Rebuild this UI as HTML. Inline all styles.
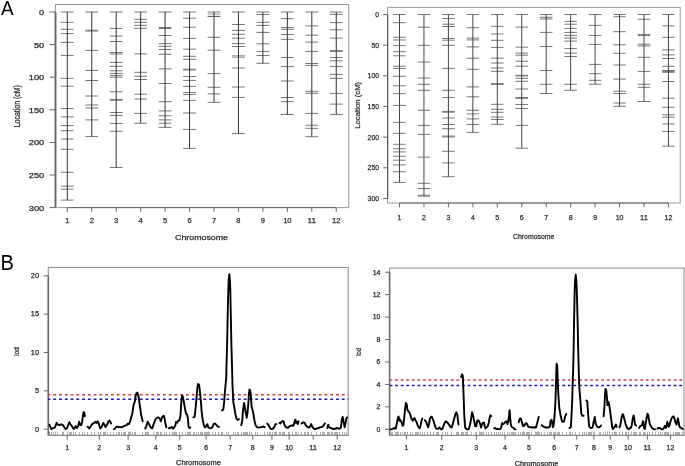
<!DOCTYPE html>
<html><head><meta charset="utf-8"><style>
html,body{margin:0;padding:0;background:#fff;}
body{width:685px;height:466px;overflow:hidden;}
svg{display:block;}
</style></head><body>
<svg width="685" height="466" viewBox="0 0 685 466">
<defs><filter id="bl" x="0" y="0" width="100%" height="100%" filterUnits="userSpaceOnUse"><feGaussianBlur stdDeviation="0.4"/></filter></defs>
<rect width="685" height="466" fill="#fff"/>
<g filter="url(#bl)">
<rect width="685" height="466" fill="#fff"/>
<g font-family='"Liberation Sans", sans-serif'>
<rect x="55.5" y="4.5" width="293.2" height="203.1" fill="none" stroke="#9a9a9a" stroke-width="1"/>
<line x1="55.5" y1="12.0" x2="55.5" y2="207.6" stroke="#666" stroke-width="1.9"/>
<line x1="49.5" y1="12.00" x2="55.5" y2="12.00" stroke="#666" stroke-width="1"/>
<text x="44.20" y="15.00" text-anchor="end" font-size="7.2" fill="#2a2a2a" stroke="#2a2a2a" stroke-width="0.25" textLength="5.15" lengthAdjust="spacingAndGlyphs">0</text>
<line x1="49.5" y1="44.60" x2="55.5" y2="44.60" stroke="#666" stroke-width="1"/>
<text x="44.20" y="47.60" text-anchor="end" font-size="7.2" fill="#2a2a2a" stroke="#2a2a2a" stroke-width="0.25" textLength="10.3" lengthAdjust="spacingAndGlyphs">50</text>
<line x1="49.5" y1="77.20" x2="55.5" y2="77.20" stroke="#666" stroke-width="1"/>
<text x="44.20" y="80.20" text-anchor="end" font-size="7.2" fill="#2a2a2a" stroke="#2a2a2a" stroke-width="0.25" textLength="15.450000000000001" lengthAdjust="spacingAndGlyphs">100</text>
<line x1="49.5" y1="109.80" x2="55.5" y2="109.80" stroke="#666" stroke-width="1"/>
<text x="44.20" y="112.80" text-anchor="end" font-size="7.2" fill="#2a2a2a" stroke="#2a2a2a" stroke-width="0.25" textLength="15.450000000000001" lengthAdjust="spacingAndGlyphs">150</text>
<line x1="49.5" y1="142.40" x2="55.5" y2="142.40" stroke="#666" stroke-width="1"/>
<text x="44.20" y="145.40" text-anchor="end" font-size="7.2" fill="#2a2a2a" stroke="#2a2a2a" stroke-width="0.25" textLength="15.450000000000001" lengthAdjust="spacingAndGlyphs">200</text>
<line x1="49.5" y1="175.00" x2="55.5" y2="175.00" stroke="#666" stroke-width="1"/>
<text x="44.20" y="178.00" text-anchor="end" font-size="7.2" fill="#2a2a2a" stroke="#2a2a2a" stroke-width="0.25" textLength="15.450000000000001" lengthAdjust="spacingAndGlyphs">250</text>
<line x1="49.5" y1="207.60" x2="55.5" y2="207.60" stroke="#666" stroke-width="1"/>
<text x="44.20" y="210.60" text-anchor="end" font-size="7.2" fill="#2a2a2a" stroke="#2a2a2a" stroke-width="0.25" textLength="15.450000000000001" lengthAdjust="spacingAndGlyphs">300</text>
<line x1="67.30" y1="207.6" x2="336.25" y2="207.6" stroke="#666" stroke-width="1"/>
<line x1="67.30" y1="207.6" x2="67.30" y2="211.9" stroke="#666" stroke-width="1"/>
<text x="67.30" y="223.10" text-anchor="middle" font-size="7.6" fill="#2a2a2a" stroke="#2a2a2a" stroke-width="0.25" textLength="4.2" lengthAdjust="spacingAndGlyphs">1</text>
<line x1="91.75" y1="207.6" x2="91.75" y2="211.9" stroke="#666" stroke-width="1"/>
<text x="91.75" y="223.10" text-anchor="middle" font-size="7.6" fill="#2a2a2a" stroke="#2a2a2a" stroke-width="0.25" textLength="4.2" lengthAdjust="spacingAndGlyphs">2</text>
<line x1="116.20" y1="207.6" x2="116.20" y2="211.9" stroke="#666" stroke-width="1"/>
<text x="116.20" y="223.10" text-anchor="middle" font-size="7.6" fill="#2a2a2a" stroke="#2a2a2a" stroke-width="0.25" textLength="4.2" lengthAdjust="spacingAndGlyphs">3</text>
<line x1="140.65" y1="207.6" x2="140.65" y2="211.9" stroke="#666" stroke-width="1"/>
<text x="140.65" y="223.10" text-anchor="middle" font-size="7.6" fill="#2a2a2a" stroke="#2a2a2a" stroke-width="0.25" textLength="4.2" lengthAdjust="spacingAndGlyphs">4</text>
<line x1="165.10" y1="207.6" x2="165.10" y2="211.9" stroke="#666" stroke-width="1"/>
<text x="165.10" y="223.10" text-anchor="middle" font-size="7.6" fill="#2a2a2a" stroke="#2a2a2a" stroke-width="0.25" textLength="4.2" lengthAdjust="spacingAndGlyphs">5</text>
<line x1="189.55" y1="207.6" x2="189.55" y2="211.9" stroke="#666" stroke-width="1"/>
<text x="189.55" y="223.10" text-anchor="middle" font-size="7.6" fill="#2a2a2a" stroke="#2a2a2a" stroke-width="0.25" textLength="4.2" lengthAdjust="spacingAndGlyphs">6</text>
<line x1="214.00" y1="207.6" x2="214.00" y2="211.9" stroke="#666" stroke-width="1"/>
<text x="214.00" y="223.10" text-anchor="middle" font-size="7.6" fill="#2a2a2a" stroke="#2a2a2a" stroke-width="0.25" textLength="4.2" lengthAdjust="spacingAndGlyphs">7</text>
<line x1="238.45" y1="207.6" x2="238.45" y2="211.9" stroke="#666" stroke-width="1"/>
<text x="238.45" y="223.10" text-anchor="middle" font-size="7.6" fill="#2a2a2a" stroke="#2a2a2a" stroke-width="0.25" textLength="4.2" lengthAdjust="spacingAndGlyphs">8</text>
<line x1="262.90" y1="207.6" x2="262.90" y2="211.9" stroke="#666" stroke-width="1"/>
<text x="262.90" y="223.10" text-anchor="middle" font-size="7.6" fill="#2a2a2a" stroke="#2a2a2a" stroke-width="0.25" textLength="4.2" lengthAdjust="spacingAndGlyphs">9</text>
<line x1="287.35" y1="207.6" x2="287.35" y2="211.9" stroke="#666" stroke-width="1"/>
<text x="287.35" y="223.10" text-anchor="middle" font-size="7.6" fill="#2a2a2a" stroke="#2a2a2a" stroke-width="0.25" textLength="8.4" lengthAdjust="spacingAndGlyphs">10</text>
<line x1="311.80" y1="207.6" x2="311.80" y2="211.9" stroke="#666" stroke-width="1"/>
<text x="311.80" y="223.10" text-anchor="middle" font-size="7.6" fill="#2a2a2a" stroke="#2a2a2a" stroke-width="0.25" textLength="8.4" lengthAdjust="spacingAndGlyphs">11</text>
<line x1="336.25" y1="207.6" x2="336.25" y2="211.9" stroke="#666" stroke-width="1"/>
<text x="336.25" y="223.10" text-anchor="middle" font-size="7.6" fill="#2a2a2a" stroke="#2a2a2a" stroke-width="0.25" textLength="8.4" lengthAdjust="spacingAndGlyphs">12</text>
<text x="201.50" y="240.30" text-anchor="middle" font-size="7.8" fill="#2a2a2a" stroke="#2a2a2a" stroke-width="0.25" textLength="53.0" lengthAdjust="spacingAndGlyphs">Chromosome</text>
<text transform="translate(19.9,106.2) rotate(-90)" text-anchor="middle" font-size="8.7" fill="#2a2a2a" stroke="#2a2a2a" stroke-width="0.25" textLength="42.2" lengthAdjust="spacingAndGlyphs">Location (cM)</text>
<path d="M60.90 12.0h12.80M60.90 22.3h12.80M60.90 29.3h12.80M60.90 33.6h12.80M60.90 42.4h12.80M60.90 55.4h12.80M60.90 78.3h12.80M60.90 86.2h12.80M60.90 108.6h12.80M60.90 116.9h12.80M60.90 125.6h12.80M60.90 130.7h12.80M60.90 139h12.80M60.90 149.3h12.80M60.90 172.3h12.80M60.90 186.1h12.80M60.90 189.1h12.80M60.90 200.1h12.80" stroke="#777" stroke-width="1" fill="none"/>
<line x1="67.30" y1="12.0" x2="67.30" y2="200.1" stroke="#333" stroke-width="1"/>
<path d="M85.35 12.0h12.80M85.35 30.2h12.80M85.35 31.0h12.80M85.35 50.4h12.80M85.35 70.4h12.80M85.35 80.5h12.80M85.35 96h12.80M85.35 105h12.80M85.35 108h12.80M85.35 119.9h12.80M85.35 136.6h12.80" stroke="#777" stroke-width="1" fill="none"/>
<line x1="91.75" y1="12.0" x2="91.75" y2="136.6" stroke="#333" stroke-width="1"/>
<path d="M109.80 12.0h12.80M109.80 28.4h12.80M109.80 36.1h12.80M109.80 41.5h12.80M109.80 52.5h12.80M109.80 54h12.80M109.80 62.4h12.80M109.80 66.3h12.80M109.80 70.8h12.80M109.80 73.4h12.80M109.80 75.4h12.80M109.80 77.2h12.80M109.80 91.8h12.80M109.80 99.4h12.80M109.80 100.2h12.80M109.80 112.5h12.80M109.80 115.4h12.80M109.80 123.4h12.80M109.80 131.3h12.80M109.80 167.5h12.80" stroke="#777" stroke-width="1" fill="none"/>
<line x1="116.20" y1="12.0" x2="116.20" y2="167.5" stroke="#333" stroke-width="1"/>
<path d="M134.25 12.0h12.80M134.25 19.3h12.80M134.25 22.3h12.80M134.25 25.3h12.80M134.25 28.3h12.80M134.25 53.9h12.80M134.25 72.3h12.80M134.25 76.3h12.80M134.25 79.5h12.80M134.25 94.2h12.80M134.25 99h12.80M134.25 113.4h12.80M134.25 123.2h12.80" stroke="#777" stroke-width="1" fill="none"/>
<line x1="140.65" y1="12.0" x2="140.65" y2="123.2" stroke="#333" stroke-width="1"/>
<path d="M158.70 12.0h12.80M158.70 27.5h12.80M158.70 28.5h12.80M158.70 35.5h12.80M158.70 43.6h12.80M158.70 46.3h12.80M158.70 49.5h12.80M158.70 54.3h12.80M158.70 68.9h12.80M158.70 83.5h12.80M158.70 101.7h12.80M158.70 110.9h12.80M158.70 115.8h12.80M158.70 119.9h12.80M158.70 123.2h12.80M158.70 127.4h12.80" stroke="#777" stroke-width="1" fill="none"/>
<line x1="165.10" y1="12.0" x2="165.10" y2="127.4" stroke="#333" stroke-width="1"/>
<path d="M183.15 12.0h12.80M183.15 18.2h12.80M183.15 27.2h12.80M183.15 38.4h12.80M183.15 49.2h12.80M183.15 56.3h12.80M183.15 59.3h12.80M183.15 69.2h12.80M183.15 70.0h12.80M183.15 76.5h12.80M183.15 80.4h12.80M183.15 86.4h12.80M183.15 92.5h12.80M183.15 94.5h12.80M183.15 100.4h12.80M183.15 113h12.80M183.15 129.4h12.80M183.15 148.4h12.80" stroke="#777" stroke-width="1" fill="none"/>
<line x1="189.55" y1="12.0" x2="189.55" y2="148.4" stroke="#333" stroke-width="1"/>
<path d="M207.60 37.3h12.80M207.60 50.2h12.80M207.60 73.6h12.80M207.60 87.3h12.80M207.60 93.9h12.80M207.60 102.3h12.80" stroke="#777" stroke-width="1" fill="none"/>
<path d="M207.60 11.7h12.80" stroke="#aaa" stroke-width="1" fill="none"/>
<path d="M207.60 12.9h12.80" stroke="#aaa" stroke-width="1" fill="none"/>
<path d="M207.60 14.1h12.80" stroke="#aaa" stroke-width="1" fill="none"/>
<path d="M207.60 16.4h12.80" stroke="#555" stroke-width="1" fill="none"/>
<line x1="214.00" y1="11.7" x2="214.00" y2="102.3" stroke="#333" stroke-width="1"/>
<path d="M232.05 12.0h12.80M232.05 24.5h12.80M232.05 30.4h12.80M232.05 34.3h12.80M232.05 38.2h12.80M232.05 43.6h12.80M232.05 46.5h12.80M232.05 68h12.80M232.05 87h12.80M232.05 97.4h12.80M232.05 133.6h12.80" stroke="#777" stroke-width="1" fill="none"/>
<path d="M232.05 55.8h12.80" stroke="#888" stroke-width="1" fill="none"/>
<path d="M232.05 57.2h12.80" stroke="#888" stroke-width="1" fill="none"/>
<line x1="238.45" y1="12.0" x2="238.45" y2="133.6" stroke="#333" stroke-width="1"/>
<path d="M256.50 12.0h12.80M256.50 14.5h12.80M256.50 22.3h12.80M256.50 25.4h12.80M256.50 32.4h12.80M256.50 43.8h12.80M256.50 51.4h12.80M256.50 55.5h12.80M256.50 63.3h12.80" stroke="#777" stroke-width="1" fill="none"/>
<line x1="262.90" y1="12.0" x2="262.90" y2="63.3" stroke="#333" stroke-width="1"/>
<path d="M280.95 12.0h12.80M280.95 18.7h12.80M280.95 27.5h12.80M280.95 29.3h12.80M280.95 34.5h12.80M280.95 39.3h12.80M280.95 57.5h12.80M280.95 66.6h12.80M280.95 81h12.80M280.95 97.5h12.80M280.95 101.7h12.80M280.95 114.5h12.80" stroke="#777" stroke-width="1" fill="none"/>
<line x1="287.35" y1="12.0" x2="287.35" y2="114.5" stroke="#333" stroke-width="1"/>
<path d="M305.40 12.0h12.80M305.40 25.9h12.80M305.40 35.2h12.80M305.40 42.1h12.80M305.40 51.4h12.80M305.40 63.5h12.80M305.40 65.4h12.80M305.40 91.3h12.80M305.40 93.3h12.80M305.40 113.4h12.80M305.40 125.2h12.80M305.40 128.3h12.80M305.40 136.7h12.80" stroke="#777" stroke-width="1" fill="none"/>
<line x1="311.80" y1="12.0" x2="311.80" y2="136.7" stroke="#333" stroke-width="1"/>
<path d="M329.85 12.0h12.80M329.85 14.3h12.80M329.85 22.6h12.80M329.85 29.8h12.80M329.85 38.1h12.80M329.85 50.6h12.80M329.85 51.4h12.80M329.85 57.5h12.80M329.85 60.8h12.80M329.85 66.5h12.80M329.85 74.4h12.80M329.85 78.3h12.80M329.85 93.4h12.80M329.85 104.1h12.80M329.85 114.5h12.80" stroke="#777" stroke-width="1" fill="none"/>
<line x1="336.25" y1="12.0" x2="336.25" y2="114.5" stroke="#333" stroke-width="1"/>
<rect x="387.6" y="7.4" width="292.6" height="195.6" fill="none" stroke="#9a9a9a" stroke-width="1"/>
<line x1="387.6" y1="14.5" x2="387.6" y2="198.48999999999998" stroke="#555" stroke-width="1.2"/>
<line x1="383.3" y1="14.50" x2="387.6" y2="14.50" stroke="#666" stroke-width="1"/>
<text x="379.00" y="17.10" text-anchor="end" font-size="7.5" fill="#2a2a2a" stroke="#2a2a2a" stroke-width="0.25" textLength="3.8" lengthAdjust="spacingAndGlyphs">0</text>
<line x1="383.3" y1="45.16" x2="387.6" y2="45.16" stroke="#666" stroke-width="1"/>
<text x="379.00" y="47.77" text-anchor="end" font-size="7.5" fill="#2a2a2a" stroke="#2a2a2a" stroke-width="0.25" textLength="7.6" lengthAdjust="spacingAndGlyphs">50</text>
<line x1="383.3" y1="75.83" x2="387.6" y2="75.83" stroke="#666" stroke-width="1"/>
<text x="379.00" y="78.43" text-anchor="end" font-size="7.5" fill="#2a2a2a" stroke="#2a2a2a" stroke-width="0.25" textLength="11.399999999999999" lengthAdjust="spacingAndGlyphs">100</text>
<line x1="383.3" y1="106.49" x2="387.6" y2="106.49" stroke="#666" stroke-width="1"/>
<text x="379.00" y="109.09" text-anchor="end" font-size="7.5" fill="#2a2a2a" stroke="#2a2a2a" stroke-width="0.25" textLength="11.399999999999999" lengthAdjust="spacingAndGlyphs">150</text>
<line x1="383.3" y1="137.16" x2="387.6" y2="137.16" stroke="#666" stroke-width="1"/>
<text x="379.00" y="139.76" text-anchor="end" font-size="7.5" fill="#2a2a2a" stroke="#2a2a2a" stroke-width="0.25" textLength="11.399999999999999" lengthAdjust="spacingAndGlyphs">200</text>
<line x1="383.3" y1="167.82" x2="387.6" y2="167.82" stroke="#666" stroke-width="1"/>
<text x="379.00" y="170.42" text-anchor="end" font-size="7.5" fill="#2a2a2a" stroke="#2a2a2a" stroke-width="0.25" textLength="11.399999999999999" lengthAdjust="spacingAndGlyphs">250</text>
<line x1="383.3" y1="198.49" x2="387.6" y2="198.49" stroke="#666" stroke-width="1"/>
<text x="379.00" y="201.09" text-anchor="end" font-size="7.5" fill="#2a2a2a" stroke="#2a2a2a" stroke-width="0.25" textLength="11.399999999999999" lengthAdjust="spacingAndGlyphs">300</text>
<line x1="399.50" y1="203.0" x2="668.45" y2="203.0" stroke="#666" stroke-width="1"/>
<line x1="399.50" y1="203.0" x2="399.50" y2="207.3" stroke="#666" stroke-width="1"/>
<text x="399.50" y="220.10" text-anchor="middle" font-size="7.6" fill="#2a2a2a" stroke="#2a2a2a" stroke-width="0.25" textLength="3.9" lengthAdjust="spacingAndGlyphs">1</text>
<line x1="423.95" y1="203.0" x2="423.95" y2="207.3" stroke="#666" stroke-width="1"/>
<text x="423.95" y="220.10" text-anchor="middle" font-size="7.6" fill="#2a2a2a" stroke="#2a2a2a" stroke-width="0.25" textLength="3.9" lengthAdjust="spacingAndGlyphs">2</text>
<line x1="448.40" y1="203.0" x2="448.40" y2="207.3" stroke="#666" stroke-width="1"/>
<text x="448.40" y="220.10" text-anchor="middle" font-size="7.6" fill="#2a2a2a" stroke="#2a2a2a" stroke-width="0.25" textLength="3.9" lengthAdjust="spacingAndGlyphs">3</text>
<line x1="472.85" y1="203.0" x2="472.85" y2="207.3" stroke="#666" stroke-width="1"/>
<text x="472.85" y="220.10" text-anchor="middle" font-size="7.6" fill="#2a2a2a" stroke="#2a2a2a" stroke-width="0.25" textLength="3.9" lengthAdjust="spacingAndGlyphs">4</text>
<line x1="497.30" y1="203.0" x2="497.30" y2="207.3" stroke="#666" stroke-width="1"/>
<text x="497.30" y="220.10" text-anchor="middle" font-size="7.6" fill="#2a2a2a" stroke="#2a2a2a" stroke-width="0.25" textLength="3.9" lengthAdjust="spacingAndGlyphs">5</text>
<line x1="521.75" y1="203.0" x2="521.75" y2="207.3" stroke="#666" stroke-width="1"/>
<text x="521.75" y="220.10" text-anchor="middle" font-size="7.6" fill="#2a2a2a" stroke="#2a2a2a" stroke-width="0.25" textLength="3.9" lengthAdjust="spacingAndGlyphs">6</text>
<line x1="546.20" y1="203.0" x2="546.20" y2="207.3" stroke="#666" stroke-width="1"/>
<text x="546.20" y="220.10" text-anchor="middle" font-size="7.6" fill="#2a2a2a" stroke="#2a2a2a" stroke-width="0.25" textLength="3.9" lengthAdjust="spacingAndGlyphs">7</text>
<line x1="570.65" y1="203.0" x2="570.65" y2="207.3" stroke="#666" stroke-width="1"/>
<text x="570.65" y="220.10" text-anchor="middle" font-size="7.6" fill="#2a2a2a" stroke="#2a2a2a" stroke-width="0.25" textLength="3.9" lengthAdjust="spacingAndGlyphs">8</text>
<line x1="595.10" y1="203.0" x2="595.10" y2="207.3" stroke="#666" stroke-width="1"/>
<text x="595.10" y="220.10" text-anchor="middle" font-size="7.6" fill="#2a2a2a" stroke="#2a2a2a" stroke-width="0.25" textLength="3.9" lengthAdjust="spacingAndGlyphs">9</text>
<line x1="619.55" y1="203.0" x2="619.55" y2="207.3" stroke="#666" stroke-width="1"/>
<text x="619.55" y="220.10" text-anchor="middle" font-size="7.6" fill="#2a2a2a" stroke="#2a2a2a" stroke-width="0.25" textLength="7.8" lengthAdjust="spacingAndGlyphs">10</text>
<line x1="644.00" y1="203.0" x2="644.00" y2="207.3" stroke="#666" stroke-width="1"/>
<text x="644.00" y="220.10" text-anchor="middle" font-size="7.6" fill="#2a2a2a" stroke="#2a2a2a" stroke-width="0.25" textLength="7.8" lengthAdjust="spacingAndGlyphs">11</text>
<line x1="668.45" y1="203.0" x2="668.45" y2="207.3" stroke="#666" stroke-width="1"/>
<text x="668.45" y="220.10" text-anchor="middle" font-size="7.6" fill="#2a2a2a" stroke="#2a2a2a" stroke-width="0.25" textLength="7.8" lengthAdjust="spacingAndGlyphs">12</text>
<text x="533.70" y="238.90" text-anchor="middle" font-size="8.0" fill="#2a2a2a" stroke="#2a2a2a" stroke-width="0.25" textLength="41.5" lengthAdjust="spacingAndGlyphs">Chromosome</text>
<text transform="translate(360.2,105.3) rotate(-90)" text-anchor="middle" font-size="8.0" fill="#2a2a2a" stroke="#2a2a2a" stroke-width="0.25" textLength="47.0" lengthAdjust="spacingAndGlyphs">Location (cM)</text>
<path d="M393.25 14.5h12.50M393.25 22.7h12.50M393.25 37.3h12.50M393.25 40h12.50M393.25 45.7h12.50M393.25 51.7h12.50M393.25 55.8h12.50M393.25 66.2h12.50M393.25 68.4h12.50M393.25 76.2h12.50M393.25 85.8h12.50M393.25 93.6h12.50M393.25 105.4h12.50M393.25 122.4h12.50M393.25 133.3h12.50M393.25 144.3h12.50M393.25 148.8h12.50M393.25 151.9h12.50M393.25 156.3h12.50M393.25 160.2h12.50M393.25 164.9h12.50M393.25 171.8h12.50M393.25 182.4h12.50" stroke="#777" stroke-width="1" fill="none"/>
<line x1="399.50" y1="14.5" x2="399.50" y2="182.4" stroke="#444" stroke-width="1"/>
<path d="M417.70 14.5h12.50M417.70 27.2h12.50M417.70 45.3h12.50M417.70 62h12.50M417.70 78h12.50M417.70 84.3h12.50M417.70 90.3h12.50M417.70 110.3h12.50M417.70 125.4h12.50M417.70 134.4h12.50M417.70 157.2h12.50M417.70 183.3h12.50M417.70 188.5h12.50M417.70 195.3h12.50M417.70 196.1h12.50" stroke="#777" stroke-width="1" fill="none"/>
<line x1="423.95" y1="14.5" x2="423.95" y2="196.1" stroke="#444" stroke-width="1"/>
<path d="M442.15 14.5h12.50M442.15 18.5h12.50M442.15 24.2h12.50M442.15 26.5h12.50M442.15 38.5h12.50M442.15 40.2h12.50M442.15 45.3h12.50M442.15 68.4h12.50M442.15 90.3h12.50M442.15 97.6h12.50M442.15 111.4h12.50M442.15 112.2h12.50M442.15 118h12.50M442.15 124.5h12.50M442.15 128.7h12.50M442.15 136.1h12.50M442.15 136.9h12.50M442.15 151.3h12.50M442.15 162.9h12.50M442.15 176.7h12.50" stroke="#777" stroke-width="1" fill="none"/>
<line x1="448.40" y1="14.5" x2="448.40" y2="176.7" stroke="#444" stroke-width="1"/>
<path d="M466.60 14.5h12.50M466.60 27.7h12.50M466.60 38.1h12.50M466.60 39.9h12.50M466.60 46.9h12.50M466.60 58.2h12.50M466.60 69.3h12.50M466.60 86.9h12.50M466.60 96.8h12.50M466.60 110.3h12.50M466.60 113.9h12.50M466.60 118.9h12.50M466.60 124.5h12.50M466.60 132.4h12.50" stroke="#777" stroke-width="1" fill="none"/>
<line x1="472.85" y1="14.5" x2="472.85" y2="132.4" stroke="#444" stroke-width="1"/>
<path d="M491.05 14.5h12.50M491.05 26.3h12.50M491.05 33.9h12.50M491.05 40.3h12.50M491.05 47.4h12.50M491.05 58.2h12.50M491.05 63h12.50M491.05 68h12.50M491.05 71.3h12.50M491.05 83.6h12.50M491.05 84.4h12.50M491.05 104.3h12.50M491.05 109.3h12.50M491.05 112.3h12.50M491.05 117.1h12.50M491.05 119.5h12.50M491.05 124.3h12.50" stroke="#777" stroke-width="1" fill="none"/>
<line x1="497.30" y1="14.5" x2="497.30" y2="124.3" stroke="#444" stroke-width="1"/>
<path d="M515.50 14.5h12.50M515.50 27.1h12.50M515.50 47.2h12.50M515.50 53.1h12.50M515.50 55.2h12.50M515.50 61.2h12.50M515.50 66.2h12.50M515.50 75.3h12.50M515.50 75.9h12.50M515.50 78.3h12.50M515.50 81.3h12.50M515.50 89h12.50M515.50 97.5h12.50M515.50 98.3h12.50M515.50 104.5h12.50M515.50 108.5h12.50M515.50 125.4h12.50M515.50 148.2h12.50" stroke="#777" stroke-width="1" fill="none"/>
<line x1="521.75" y1="14.5" x2="521.75" y2="148.2" stroke="#444" stroke-width="1"/>
<path d="M539.95 14.5h12.50M539.95 17.3h12.50M539.95 19h12.50M539.95 32.4h12.50M539.95 46.5h12.50M539.95 70.5h12.50M539.95 84.3h12.50M539.95 93.5h12.50" stroke="#777" stroke-width="1" fill="none"/>
<line x1="546.20" y1="14.5" x2="546.20" y2="93.5" stroke="#444" stroke-width="1"/>
<path d="M564.40 14.5h12.50M564.40 21.4h12.50M564.40 24.2h12.50M564.40 28.4h12.50M564.40 32.4h12.50M564.40 35.4h12.50M564.40 38.1h12.50M564.40 41.1h12.50M564.40 48.6h12.50M564.40 53.1h12.50M564.40 56.5h12.50M564.40 84.3h12.50M564.40 90.3h12.50" stroke="#777" stroke-width="1" fill="none"/>
<line x1="570.65" y1="14.5" x2="570.65" y2="90.3" stroke="#444" stroke-width="1"/>
<path d="M588.85 14.5h12.50M588.85 25.4h12.50M588.85 35.4h12.50M588.85 44.4h12.50M588.85 64.4h12.50M588.85 73.7h12.50M588.85 80.3h12.50M588.85 84.2h12.50" stroke="#777" stroke-width="1" fill="none"/>
<line x1="595.10" y1="14.5" x2="595.10" y2="84.2" stroke="#444" stroke-width="1"/>
<path d="M613.30 14.5h12.50M613.30 16.7h12.50M613.30 31.7h12.50M613.30 44.8h12.50M613.30 53.2h12.50M613.30 65h12.50M613.30 79.1h12.50M613.30 91.2h12.50M613.30 93.5h12.50M613.30 103h12.50M613.30 106.3h12.50" stroke="#777" stroke-width="1" fill="none"/>
<line x1="619.55" y1="14.5" x2="619.55" y2="106.3" stroke="#444" stroke-width="1"/>
<path d="M637.75 14.5h12.50M637.75 19.3h12.50M637.75 34.6h12.50M637.75 35.4h12.50M637.75 44.2h12.50M637.75 45.9h12.50M637.75 57.3h12.50M637.75 71.4h12.50M637.75 84.3h12.50M637.75 87.3h12.50M637.75 101.5h12.50" stroke="#777" stroke-width="1" fill="none"/>
<line x1="644.00" y1="14.5" x2="644.00" y2="101.5" stroke="#444" stroke-width="1"/>
<path d="M662.20 14.5h12.50M662.20 25.9h12.50M662.20 37.3h12.50M662.20 49.9h12.50M662.20 54.9h12.50M662.20 58.5h12.50M662.20 66.3h12.50M662.20 70.5h12.50M662.20 71.5h12.50M662.20 72.3h12.50M662.20 81.5h12.50M662.20 98.2h12.50M662.20 107.3h12.50M662.20 114.8h12.50M662.20 117.2h12.50M662.20 123.9h12.50M662.20 131.4h12.50M662.20 146.2h12.50" stroke="#777" stroke-width="1" fill="none"/>
<line x1="668.45" y1="14.5" x2="668.45" y2="146.2" stroke="#444" stroke-width="1"/>
<rect x="48.3" y="267.4" width="299.9" height="168.0" fill="none" stroke="#8a8a8a" stroke-width="1"/>
<line x1="48.3" y1="275.80" x2="48.3" y2="435.4" stroke="#666" stroke-width="1.5"/>
<line x1="43.8" y1="429.20" x2="48.3" y2="429.20" stroke="#666" stroke-width="1"/>
<text x="39.00" y="431.50" text-anchor="end" font-size="6.8" fill="#2a2a2a" stroke="#2a2a2a" stroke-width="0.25" textLength="4.1" lengthAdjust="spacingAndGlyphs">0</text>
<line x1="43.8" y1="390.85" x2="48.3" y2="390.85" stroke="#666" stroke-width="1"/>
<text x="39.00" y="393.15" text-anchor="end" font-size="6.8" fill="#2a2a2a" stroke="#2a2a2a" stroke-width="0.25" textLength="4.1" lengthAdjust="spacingAndGlyphs">5</text>
<line x1="43.8" y1="352.50" x2="48.3" y2="352.50" stroke="#666" stroke-width="1"/>
<text x="39.00" y="354.80" text-anchor="end" font-size="6.8" fill="#2a2a2a" stroke="#2a2a2a" stroke-width="0.25" textLength="8.2" lengthAdjust="spacingAndGlyphs">10</text>
<line x1="43.8" y1="314.15" x2="48.3" y2="314.15" stroke="#666" stroke-width="1"/>
<text x="39.00" y="316.45" text-anchor="end" font-size="6.8" fill="#2a2a2a" stroke="#2a2a2a" stroke-width="0.25" textLength="8.2" lengthAdjust="spacingAndGlyphs">15</text>
<line x1="43.8" y1="275.80" x2="48.3" y2="275.80" stroke="#666" stroke-width="1"/>
<text x="39.00" y="278.10" text-anchor="end" font-size="6.8" fill="#2a2a2a" stroke="#2a2a2a" stroke-width="0.25" textLength="8.2" lengthAdjust="spacingAndGlyphs">20</text>
<line x1="48.3" y1="394.8" x2="348.2" y2="394.8" stroke="#cc4050" stroke-width="1.6" stroke-dasharray="2.885 2.885" stroke-dashoffset="0.8"/>
<line x1="48.3" y1="399.3" x2="348.2" y2="399.3" stroke="#1a1aa8" stroke-width="1.6" stroke-dasharray="2.885 2.885" stroke-dashoffset="0.8"/>
<path d="M49.50 431.90v3.5M51.50 431.90v3.5M53.50 431.90v3.5M55.50 431.90v3.5M57.50 431.90v3.5M62.50 431.90v3.5M63.50 431.90v3.5M67.50 431.90v3.5M69.50 431.90v3.5M70.50 431.90v3.5M71.50 431.90v3.5M73.50 431.90v3.5M75.50 431.90v3.5M79.50 431.90v3.5M82.50 431.90v3.5M84.50 431.90v3.5M87.50 431.90v3.5M91.50 431.90v3.5M94.50 431.90v3.5M98.50 431.90v3.5M100.50 431.90v3.5M103.50 431.90v3.5M104.50 431.90v3.5M105.50 431.90v3.5M107.50 431.90v3.5M110.50 431.90v3.5M113.50 431.90v3.5M116.50 431.90v3.5M118.50 431.90v3.5M119.50 431.90v3.5M121.50 431.90v3.5M123.50 431.90v3.5M124.50 431.90v3.5M125.50 431.90v3.5M128.50 431.90v3.5M129.50 431.90v3.5M130.50 431.90v3.5M132.50 431.90v3.5M134.50 431.90v3.5M135.50 431.90v3.5M142.50 431.90v3.5M145.50 431.90v3.5M146.50 431.90v3.5M147.50 431.90v3.5M148.50 431.90v3.5M153.50 431.90v3.5M156.50 431.90v3.5M157.50 431.90v3.5M158.50 431.90v3.5M160.50 431.90v3.5M161.50 431.90v3.5M164.50 431.90v3.5M166.50 431.90v3.5M169.50 431.90v3.5M172.50 431.90v3.5M173.50 431.90v3.5M174.50 431.90v3.5M175.50 431.90v3.5M176.50 431.90v3.5M179.50 431.90v3.5M182.50 431.90v3.5M185.50 431.90v3.5M187.50 431.90v3.5M188.50 431.90v3.5M189.50 431.90v3.5M190.50 431.90v3.5M193.50 431.90v3.5M194.50 431.90v3.5M196.50 431.90v3.5M198.50 431.90v3.5M200.50 431.90v3.5M201.50 431.90v3.5M202.50 431.90v3.5M204.50 431.90v3.5M205.50 431.90v3.5M206.50 431.90v3.5M207.50 431.90v3.5M208.50 431.90v3.5M209.50 431.90v3.5M212.50 431.90v3.5M215.50 431.90v3.5M218.50 431.90v3.5M221.50 431.90v3.5M222.50 431.90v3.5M226.50 431.90v3.5M228.50 431.90v3.5M233.50 431.90v3.5M235.50 431.90v3.5M237.50 431.90v3.5M238.50 431.90v3.5M241.50 431.90v3.5M243.50 431.90v3.5M244.50 431.90v3.5M245.50 431.90v3.5M246.50 431.90v3.5M247.50 431.90v3.5M249.50 431.90v3.5M251.50 431.90v3.5M255.50 431.90v3.5M257.50 431.90v3.5M264.50 431.90v3.5M267.50 431.90v3.5M269.50 431.90v3.5M270.50 431.90v3.5M272.50 431.90v3.5M274.50 431.90v3.5M275.50 431.90v3.5M276.50 431.90v3.5M279.50 431.90v3.5M280.50 431.90v3.5M282.50 431.90v3.5M283.50 431.90v3.5M284.50 431.90v3.5M288.50 431.90v3.5M289.50 431.90v3.5M292.50 431.90v3.5M295.50 431.90v3.5M296.50 431.90v3.5M298.50 431.90v3.5M301.50 431.90v3.5M304.50 431.90v3.5M305.50 431.90v3.5M307.50 431.90v3.5M308.50 431.90v3.5M311.50 431.90v3.5M316.50 431.90v3.5M320.50 431.90v3.5M322.50 431.90v3.5M323.50 431.90v3.5M324.50 431.90v3.5M327.50 431.90v3.5M328.50 431.90v3.5M329.50 431.90v3.5M331.50 431.90v3.5M332.50 431.90v3.5M334.50 431.90v3.5M335.50 431.90v3.5M336.50 431.90v3.5M337.50 431.90v3.5M339.50 431.90v3.5M342.50 431.90v3.5M344.50 431.90v3.5M346.50 431.90v3.5" stroke="#999" stroke-width="0.8" fill="none"/>
<line x1="48.3" y1="435.4" x2="348.2" y2="435.4" stroke="#888" stroke-width="1"/>
<line x1="67.22" y1="435.4" x2="67.22" y2="439.59999999999997" stroke="#666" stroke-width="1"/>
<text x="67.22" y="449.80" text-anchor="middle" font-size="6.8" fill="#2a2a2a" stroke="#2a2a2a" stroke-width="0.25" textLength="3.9" lengthAdjust="spacingAndGlyphs">1</text>
<line x1="99.18" y1="435.4" x2="99.18" y2="439.59999999999997" stroke="#666" stroke-width="1"/>
<text x="99.18" y="449.80" text-anchor="middle" font-size="6.8" fill="#2a2a2a" stroke="#2a2a2a" stroke-width="0.25" textLength="3.9" lengthAdjust="spacingAndGlyphs">2</text>
<line x1="128.13" y1="435.4" x2="128.13" y2="439.59999999999997" stroke="#666" stroke-width="1"/>
<text x="128.13" y="449.80" text-anchor="middle" font-size="6.8" fill="#2a2a2a" stroke="#2a2a2a" stroke-width="0.25" textLength="3.9" lengthAdjust="spacingAndGlyphs">3</text>
<line x1="155.83" y1="435.4" x2="155.83" y2="439.59999999999997" stroke="#666" stroke-width="1"/>
<text x="155.83" y="449.80" text-anchor="middle" font-size="6.8" fill="#2a2a2a" stroke="#2a2a2a" stroke-width="0.25" textLength="3.9" lengthAdjust="spacingAndGlyphs">4</text>
<line x1="179.82" y1="435.4" x2="179.82" y2="439.59999999999997" stroke="#666" stroke-width="1"/>
<text x="179.82" y="449.80" text-anchor="middle" font-size="6.8" fill="#2a2a2a" stroke="#2a2a2a" stroke-width="0.25" textLength="3.9" lengthAdjust="spacingAndGlyphs">5</text>
<line x1="206.15" y1="435.4" x2="206.15" y2="439.59999999999997" stroke="#666" stroke-width="1"/>
<text x="206.15" y="449.80" text-anchor="middle" font-size="6.8" fill="#2a2a2a" stroke="#2a2a2a" stroke-width="0.25" textLength="3.9" lengthAdjust="spacingAndGlyphs">6</text>
<line x1="230.17" y1="435.4" x2="230.17" y2="439.59999999999997" stroke="#666" stroke-width="1"/>
<text x="230.17" y="449.80" text-anchor="middle" font-size="6.8" fill="#2a2a2a" stroke="#2a2a2a" stroke-width="0.25" textLength="3.9" lengthAdjust="spacingAndGlyphs">7</text>
<line x1="252.83" y1="435.4" x2="252.83" y2="439.59999999999997" stroke="#666" stroke-width="1"/>
<text x="252.83" y="449.80" text-anchor="middle" font-size="6.8" fill="#2a2a2a" stroke="#2a2a2a" stroke-width="0.25" textLength="3.9" lengthAdjust="spacingAndGlyphs">8</text>
<line x1="271.86" y1="435.4" x2="271.86" y2="439.59999999999997" stroke="#666" stroke-width="1"/>
<text x="271.86" y="449.80" text-anchor="middle" font-size="6.8" fill="#2a2a2a" stroke="#2a2a2a" stroke-width="0.25" textLength="3.9" lengthAdjust="spacingAndGlyphs">9</text>
<line x1="289.11" y1="435.4" x2="289.11" y2="439.59999999999997" stroke="#666" stroke-width="1"/>
<text x="289.11" y="449.80" text-anchor="middle" font-size="6.8" fill="#2a2a2a" stroke="#2a2a2a" stroke-width="0.25" textLength="7.8" lengthAdjust="spacingAndGlyphs">10</text>
<line x1="313.16" y1="435.4" x2="313.16" y2="439.59999999999997" stroke="#666" stroke-width="1"/>
<text x="313.16" y="449.80" text-anchor="middle" font-size="6.8" fill="#2a2a2a" stroke="#2a2a2a" stroke-width="0.25" textLength="7.8" lengthAdjust="spacingAndGlyphs">11</text>
<line x1="337.20" y1="435.4" x2="337.20" y2="439.59999999999997" stroke="#666" stroke-width="1"/>
<text x="337.20" y="449.80" text-anchor="middle" font-size="6.8" fill="#2a2a2a" stroke="#2a2a2a" stroke-width="0.25" textLength="7.8" lengthAdjust="spacingAndGlyphs">12</text>
<path d="M49.35 424.70 L50.25 426.50 L51.40 429.20 L52.50 428.30 L53.90 427.90 L55.00 427.40 L56.60 422.70 L57.90 424.70 L59.30 425.20 L61.10 424.30 L62.40 424.70 L63.80 426.50 L65.60 429.20 L66.90 428.30 L68.30 424.70 L69.40 422.20 L70.50 424.70 L71.60 425.60 L72.80 427.90 L73.90 429.10 L75.00 427.40 L75.90 426.10 L77.00 427.90 L78.20 426.10 L79.10 421.60 L80.00 424.70 L81.20 425.20 L82.10 422.00 L83.00 415.70 L83.60 412.10 L84.20 412.60 L84.90 416.20" stroke="#000" stroke-width="1.9" fill="none" stroke-linejoin="round" stroke-linecap="round"/>
<path d="M87.60 426.70 L88.40 427.40 L89.20 428.50 L90.60 426.50 L92.40 423.80 L94.10 422.90 L95.50 421.80 L96.30 422.90 L97.70 421.30 L98.80 423.50 L100.20 428.50 L101.60 426.90 L103.30 422.90 L104.40 424.60 L105.50 427.20 L106.90 425.00 L108.30 421.80 L109.40 420.50 L110.30 421.80 L111.10 423.50" stroke="#000" stroke-width="1.9" fill="none" stroke-linejoin="round" stroke-linecap="round"/>
<path d="M113.90 429.10 L115.00 428.50 L116.60 426.50 L118.30 427.20 L120.00 426.90 L121.70 427.40 L123.30 426.50 L125.00 425.70 L126.70 425.20 L127.80 423.50 L128.90 424.10 L130.00 421.80 L131.20 417.40 L132.30 413.50 L133.20 407.30 L133.90 403.80 L134.80 401.70 L135.60 396.20 L136.40 393.40 L137.30 392.60 L138.20 395.00 L139.00 399.50 L140.10 407.30 L141.20 415.10 L142.70 421.30" stroke="#000" stroke-width="1.9" fill="none" stroke-linejoin="round" stroke-linecap="round"/>
<path d="M145.20 428.50 L146.30 426.30 L147.70 421.60 L149.10 424.10 L150.60 427.20 L152.20 428.50 L153.60 424.10 L155.30 419.60 L157.00 417.90 L158.10 417.40 L159.50 418.30 L160.90 421.30 L162.00 417.40 L163.60 415.70 L164.40 417.40 L165.30 422.90 L166.40 427.40" stroke="#000" stroke-width="1.9" fill="none" stroke-linejoin="round" stroke-linecap="round"/>
<path d="M168.90 428.30 L170.30 428.00 L171.80 426.90 L173.10 428.80 L174.30 427.20 L175.40 425.20 L176.00 421.80 L177.00 422.90 L178.20 420.70 L179.30 420.50 L180.40 416.30 L181.00 407.30 L181.50 399.50 L182.10 395.60 L182.70 396.20 L183.40 399.50 L184.30 404.50 L185.20 409.60 L186.00 413.50 L187.10 414.60 L187.90 418.50 L188.50 426.30 L189.30 428.00 L190.40 427.40" stroke="#000" stroke-width="1.9" fill="none" stroke-linejoin="round" stroke-linecap="round"/>
<path d="M193.30 417.30 L194.60 416.90 L195.60 408.20 L196.70 395.00 L197.40 387.60 L198.00 384.00 L199.00 384.60 L199.60 388.30 L200.30 395.00 L201.00 402.90 L201.60 410.90 L202.30 417.60 L203.40 422.90 L204.30 426.90 L205.20 427.50 L206.30 425.50 L207.40 424.20 L208.30 427.50 L209.60 427.90 L210.90 428.20 L212.30 427.50 L213.60 424.20 L214.90 423.50 L216.30 424.90 L218.00 426.60 L218.90 426.90" stroke="#000" stroke-width="1.9" fill="none" stroke-linejoin="round" stroke-linecap="round"/>
<path d="M222.00 410.50 L223.30 409.50 L224.20 401.60 L224.90 392.30 L225.60 384.30 L226.20 378.00 L226.60 362.00 L227.10 345.00 L227.50 325.00 L227.90 305.00 L228.30 290.00 L228.70 280.00 L229.30 274.20 L229.90 280.00 L230.30 290.00 L230.60 305.00 L231.00 325.00 L231.40 345.00 L231.90 362.00 L232.50 385.00 L233.30 402.00 L234.20 406.70 L235.40 414.00 L236.60 418.80 L237.80 420.00 L239.00 419.00" stroke="#000" stroke-width="1.9" fill="none" stroke-linejoin="round" stroke-linecap="round"/>
<path d="M241.30 425.20 L242.20 420.70 L243.00 410.70 L244.10 402.90 L244.90 407.30 L245.80 412.90 L246.70 417.90 L247.50 412.90 L248.30 404.00 L248.90 393.90 L249.40 389.50 L250.30 390.60 L250.90 396.20 L251.60 406.80 L252.50 409.60 L253.40 414.00 L254.50 420.70 L255.60 425.20 L257.00 427.20 L258.60 427.60 L260.30 427.40 L262.00 426.90 L263.70 426.50 L264.60 427.20" stroke="#000" stroke-width="1.9" fill="none" stroke-linejoin="round" stroke-linecap="round"/>
<path d="M267.20 423.50 L268.10 424.60 L269.30 426.50 L270.40 428.50 L271.70 429.10 L273.20 428.50 L274.30 426.90 L275.40 424.10 L276.50 424.10" stroke="#000" stroke-width="1.9" fill="none" stroke-linejoin="round" stroke-linecap="round"/>
<path d="M279.50 422.90 L280.40 423.50 L281.50 421.80 L282.60 420.90 L283.80 421.80 L284.30 424.60 L285.40 426.50 L286.50 427.40 L287.70 428.00 L288.90 426.90 L290.60 425.70 L292.30 425.40 L293.40 425.70 L294.50 422.40 L295.30 419.60 L296.20 422.90 L297.10 421.80 L297.80 424.10 L298.60 421.30" stroke="#000" stroke-width="1.9" fill="none" stroke-linejoin="round" stroke-linecap="round"/>
<path d="M301.50 423.50 L302.90 422.40 L304.50 422.70 L305.60 425.00 L307.30 426.90 L309.00 427.60 L310.10 426.30 L311.20 424.10 L312.30 426.90 L313.80 428.50 L315.10 429.40 L316.80 428.50 L318.50 428.00 L320.70 427.20 L322.40 426.90 L323.80 425.20 L325.00 423.20" stroke="#000" stroke-width="1.9" fill="none" stroke-linejoin="round" stroke-linecap="round"/>
<path d="M327.30 428.00 L328.20 424.60 L329.00 427.20 L330.70 428.00 L332.30 428.50 L334.00 429.10 L335.70 428.50 L337.40 428.00 L338.50 428.80 L340.20 428.30 L340.90 427.40 L341.80 419.60 L342.70 416.80 L343.50 421.30 L344.60 427.20 L345.40 424.10 L346.30 418.50 L347.20 417.40" stroke="#000" stroke-width="1.9" fill="none" stroke-linejoin="round" stroke-linecap="round"/>
<text x="198.40" y="465.20" text-anchor="middle" font-size="7.0" fill="#2a2a2a" stroke="#2a2a2a" stroke-width="0.25" textLength="44.8" lengthAdjust="spacingAndGlyphs">Chromosome</text>
<text transform="translate(19.0,351.4) rotate(-90)" text-anchor="middle" font-size="7.2" fill="#2a2a2a" stroke="#2a2a2a" stroke-width="0.25" textLength="8.6" lengthAdjust="spacingAndGlyphs">lod</text>
<rect x="389.6" y="268.1" width="294.4" height="167.29999999999995" fill="none" stroke="#8a8a8a" stroke-width="1"/>
<line x1="389.6" y1="272.22" x2="389.6" y2="435.4" stroke="#666" stroke-width="1.5"/>
<line x1="385.1" y1="429.30" x2="389.6" y2="429.30" stroke="#666" stroke-width="1"/>
<text x="380.40" y="431.60" text-anchor="end" font-size="6.8" fill="#2a2a2a" stroke="#2a2a2a" stroke-width="0.25" textLength="3.85" lengthAdjust="spacingAndGlyphs">0</text>
<line x1="385.1" y1="406.86" x2="389.6" y2="406.86" stroke="#666" stroke-width="1"/>
<text x="380.40" y="409.16" text-anchor="end" font-size="6.8" fill="#2a2a2a" stroke="#2a2a2a" stroke-width="0.25" textLength="3.85" lengthAdjust="spacingAndGlyphs">2</text>
<line x1="385.1" y1="384.42" x2="389.6" y2="384.42" stroke="#666" stroke-width="1"/>
<text x="380.40" y="386.72" text-anchor="end" font-size="6.8" fill="#2a2a2a" stroke="#2a2a2a" stroke-width="0.25" textLength="3.85" lengthAdjust="spacingAndGlyphs">4</text>
<line x1="385.1" y1="361.98" x2="389.6" y2="361.98" stroke="#666" stroke-width="1"/>
<text x="380.40" y="364.28" text-anchor="end" font-size="6.8" fill="#2a2a2a" stroke="#2a2a2a" stroke-width="0.25" textLength="3.85" lengthAdjust="spacingAndGlyphs">6</text>
<line x1="385.1" y1="339.54" x2="389.6" y2="339.54" stroke="#666" stroke-width="1"/>
<text x="380.40" y="341.84" text-anchor="end" font-size="6.8" fill="#2a2a2a" stroke="#2a2a2a" stroke-width="0.25" textLength="3.85" lengthAdjust="spacingAndGlyphs">8</text>
<line x1="385.1" y1="317.10" x2="389.6" y2="317.10" stroke="#666" stroke-width="1"/>
<text x="380.40" y="319.40" text-anchor="end" font-size="6.8" fill="#2a2a2a" stroke="#2a2a2a" stroke-width="0.25" textLength="7.7" lengthAdjust="spacingAndGlyphs">10</text>
<line x1="385.1" y1="294.66" x2="389.6" y2="294.66" stroke="#666" stroke-width="1"/>
<text x="380.40" y="296.96" text-anchor="end" font-size="6.8" fill="#2a2a2a" stroke="#2a2a2a" stroke-width="0.25" textLength="7.7" lengthAdjust="spacingAndGlyphs">12</text>
<line x1="385.1" y1="272.22" x2="389.6" y2="272.22" stroke="#666" stroke-width="1"/>
<text x="380.40" y="274.52" text-anchor="end" font-size="6.8" fill="#2a2a2a" stroke="#2a2a2a" stroke-width="0.25" textLength="7.7" lengthAdjust="spacingAndGlyphs">14</text>
<line x1="389.6" y1="380.0" x2="684.0" y2="380.0" stroke="#cc4050" stroke-width="1.6" stroke-dasharray="2.785 2.785" stroke-dashoffset="0.0"/>
<line x1="389.6" y1="385.5" x2="684.0" y2="385.5" stroke="#1a1aa8" stroke-width="1.6" stroke-dasharray="2.785 2.785" stroke-dashoffset="0.0"/>
<path d="M391.50 431.90v3.5M392.50 431.90v3.5M395.50 431.90v3.5M396.50 431.90v3.5M397.50 431.90v3.5M398.50 431.90v3.5M400.50 431.90v3.5M402.50 431.90v3.5M404.50 431.90v3.5M405.50 431.90v3.5M407.50 431.90v3.5M410.50 431.90v3.5M412.50 431.90v3.5M415.50 431.90v3.5M416.50 431.90v3.5M417.50 431.90v3.5M418.50 431.90v3.5M420.50 431.90v3.5M422.50 431.90v3.5M424.50 431.90v3.5M427.50 431.90v3.5M430.50 431.90v3.5M433.50 431.90v3.5M436.50 431.90v3.5M437.50 431.90v3.5M438.50 431.90v3.5M442.50 431.90v3.5M445.50 431.90v3.5M447.50 431.90v3.5M451.50 431.90v3.5M456.50 431.90v3.5M457.50 431.90v3.5M458.50 431.90v3.5M461.50 431.90v3.5M462.50 431.90v3.5M463.50 431.90v3.5M465.50 431.90v3.5M466.50 431.90v3.5M467.50 431.90v3.5M471.50 431.90v3.5M475.50 431.90v3.5M476.50 431.90v3.5M479.50 431.90v3.5M480.50 431.90v3.5M481.50 431.90v3.5M482.50 431.90v3.5M483.50 431.90v3.5M486.50 431.90v3.5M488.50 431.90v3.5M491.50 431.90v3.5M494.50 431.90v3.5M496.50 431.90v3.5M498.50 431.90v3.5M500.50 431.90v3.5M502.50 431.90v3.5M504.50 431.90v3.5M507.50 431.90v3.5M509.50 431.90v3.5M511.50 431.90v3.5M512.50 431.90v3.5M513.50 431.90v3.5M514.50 431.90v3.5M515.50 431.90v3.5M518.50 431.90v3.5M520.50 431.90v3.5M522.50 431.90v3.5M523.50 431.90v3.5M524.50 431.90v3.5M526.50 431.90v3.5M527.50 431.90v3.5M528.50 431.90v3.5M529.50 431.90v3.5M531.50 431.90v3.5M535.50 431.90v3.5M536.50 431.90v3.5M537.50 431.90v3.5M538.50 431.90v3.5M539.50 431.90v3.5M541.50 431.90v3.5M544.50 431.90v3.5M547.50 431.90v3.5M549.50 431.90v3.5M550.50 431.90v3.5M551.50 431.90v3.5M553.50 431.90v3.5M554.50 431.90v3.5M555.50 431.90v3.5M557.50 431.90v3.5M558.50 431.90v3.5M559.50 431.90v3.5M562.50 431.90v3.5M566.50 431.90v3.5M569.50 431.90v3.5M570.50 431.90v3.5M572.50 431.90v3.5M575.50 431.90v3.5M579.50 431.90v3.5M582.50 431.90v3.5M584.50 431.90v3.5M586.50 431.90v3.5M588.50 431.90v3.5M589.50 431.90v3.5M590.50 431.90v3.5M591.50 431.90v3.5M593.50 431.90v3.5M594.50 431.90v3.5M599.50 431.90v3.5M600.50 431.90v3.5M603.50 431.90v3.5M605.50 431.90v3.5M607.50 431.90v3.5M609.50 431.90v3.5M612.50 431.90v3.5M614.50 431.90v3.5M615.50 431.90v3.5M616.50 431.90v3.5M619.50 431.90v3.5M622.50 431.90v3.5M625.50 431.90v3.5M626.50 431.90v3.5M628.50 431.90v3.5M631.50 431.90v3.5M633.50 431.90v3.5M634.50 431.90v3.5M635.50 431.90v3.5M636.50 431.90v3.5M639.50 431.90v3.5M640.50 431.90v3.5M643.50 431.90v3.5M644.50 431.90v3.5M645.50 431.90v3.5M647.50 431.90v3.5M649.50 431.90v3.5M652.50 431.90v3.5M655.50 431.90v3.5M658.50 431.90v3.5M660.50 431.90v3.5M662.50 431.90v3.5M664.50 431.90v3.5M665.50 431.90v3.5M666.50 431.90v3.5M667.50 431.90v3.5M668.50 431.90v3.5M670.50 431.90v3.5M673.50 431.90v3.5M675.50 431.90v3.5M676.50 431.90v3.5M677.50 431.90v3.5M678.50 431.90v3.5M679.50 431.90v3.5M682.50 431.90v3.5" stroke="#999" stroke-width="0.8" fill="none"/>
<line x1="389.6" y1="435.4" x2="684.0" y2="435.4" stroke="#888" stroke-width="1"/>
<line x1="406.54" y1="435.4" x2="406.54" y2="439.59999999999997" stroke="#666" stroke-width="1"/>
<text x="406.54" y="449.90" text-anchor="middle" font-size="6.8" fill="#2a2a2a" stroke="#2a2a2a" stroke-width="0.25" textLength="3.9" lengthAdjust="spacingAndGlyphs">1</text>
<line x1="441.69" y1="435.4" x2="441.69" y2="439.59999999999997" stroke="#666" stroke-width="1"/>
<text x="441.69" y="449.90" text-anchor="middle" font-size="6.8" fill="#2a2a2a" stroke="#2a2a2a" stroke-width="0.25" textLength="3.9" lengthAdjust="spacingAndGlyphs">2</text>
<line x1="476.31" y1="435.4" x2="476.31" y2="439.59999999999997" stroke="#666" stroke-width="1"/>
<text x="476.31" y="449.90" text-anchor="middle" font-size="6.8" fill="#2a2a2a" stroke="#2a2a2a" stroke-width="0.25" textLength="3.9" lengthAdjust="spacingAndGlyphs">3</text>
<line x1="505.04" y1="435.4" x2="505.04" y2="439.59999999999997" stroke="#666" stroke-width="1"/>
<text x="505.04" y="449.90" text-anchor="middle" font-size="6.8" fill="#2a2a2a" stroke="#2a2a2a" stroke-width="0.25" textLength="3.9" lengthAdjust="spacingAndGlyphs">4</text>
<line x1="528.93" y1="435.4" x2="528.93" y2="439.59999999999997" stroke="#666" stroke-width="1"/>
<text x="528.93" y="449.90" text-anchor="middle" font-size="6.8" fill="#2a2a2a" stroke="#2a2a2a" stroke-width="0.25" textLength="3.9" lengthAdjust="spacingAndGlyphs">5</text>
<line x1="554.28" y1="435.4" x2="554.28" y2="439.59999999999997" stroke="#666" stroke-width="1"/>
<text x="554.28" y="449.90" text-anchor="middle" font-size="6.8" fill="#2a2a2a" stroke="#2a2a2a" stroke-width="0.25" textLength="3.9" lengthAdjust="spacingAndGlyphs">6</text>
<line x1="576.78" y1="435.4" x2="576.78" y2="439.59999999999997" stroke="#666" stroke-width="1"/>
<text x="576.78" y="449.90" text-anchor="middle" font-size="6.8" fill="#2a2a2a" stroke="#2a2a2a" stroke-width="0.25" textLength="3.9" lengthAdjust="spacingAndGlyphs">7</text>
<line x1="593.93" y1="435.4" x2="593.93" y2="439.59999999999997" stroke="#666" stroke-width="1"/>
<text x="593.93" y="449.90" text-anchor="middle" font-size="6.8" fill="#2a2a2a" stroke="#2a2a2a" stroke-width="0.25" textLength="3.9" lengthAdjust="spacingAndGlyphs">8</text>
<line x1="610.22" y1="435.4" x2="610.22" y2="439.59999999999997" stroke="#666" stroke-width="1"/>
<text x="610.22" y="449.90" text-anchor="middle" font-size="6.8" fill="#2a2a2a" stroke="#2a2a2a" stroke-width="0.25" textLength="3.9" lengthAdjust="spacingAndGlyphs">9</text>
<line x1="627.98" y1="435.4" x2="627.98" y2="439.59999999999997" stroke="#666" stroke-width="1"/>
<text x="627.98" y="449.90" text-anchor="middle" font-size="6.8" fill="#2a2a2a" stroke="#2a2a2a" stroke-width="0.25" textLength="7.8" lengthAdjust="spacingAndGlyphs">10</text>
<line x1="647.35" y1="435.4" x2="647.35" y2="439.59999999999997" stroke="#666" stroke-width="1"/>
<text x="647.35" y="449.90" text-anchor="middle" font-size="6.8" fill="#2a2a2a" stroke="#2a2a2a" stroke-width="0.25" textLength="7.8" lengthAdjust="spacingAndGlyphs">11</text>
<line x1="670.41" y1="435.4" x2="670.41" y2="439.59999999999997" stroke="#666" stroke-width="1"/>
<text x="670.41" y="449.90" text-anchor="middle" font-size="6.8" fill="#2a2a2a" stroke="#2a2a2a" stroke-width="0.25" textLength="7.8" lengthAdjust="spacingAndGlyphs">12</text>
<path d="M390.80 429.40 L392.50 428.80 L394.10 428.00 L395.80 428.50 L396.90 422.90 L398.00 417.40 L398.60 416.50 L399.40 420.70 L400.10 419.60 L400.50 420.70 L401.40 421.80 L402.50 425.70 L403.40 425.20 L404.50 415.10 L405.30 407.30 L405.90 402.90 L406.80 404.50 L407.50 410.10 L408.60 411.80 L409.40 412.30 L410.30 415.10 L411.40 418.50 L412.80 420.70 L413.70 418.50 L414.60 418.30 L415.30 420.20 L416.50 421.80 L417.60 425.20 L418.70 427.40 L419.80 428.30 L420.70 425.20 L421.50 420.70 L422.30 418.50" stroke="#000" stroke-width="1.9" fill="none" stroke-linejoin="round" stroke-linecap="round"/>
<path d="M424.80 420.20 L425.90 421.30 L427.10 424.60 L428.20 427.40 L429.10 423.50 L429.90 418.50 L431.00 416.80 L431.80 416.80 L432.60 418.50 L433.80 421.80 L434.90 425.70 L436.00 428.50 L437.10 428.90 L438.30 428.80 L439.50 427.20 L440.60 429.10 L441.70 429.40 L442.80 428.00 L443.90 424.60 L445.60 421.30 L447.30 422.40 L449.00 424.60 L450.60 427.20 L451.70 427.40 L452.90 423.50 L454.20 418.50 L455.60 413.50 L456.40 412.30 L457.30 414.60 L457.90 419.60 L458.50 424.50" stroke="#000" stroke-width="1.9" fill="none" stroke-linejoin="round" stroke-linecap="round"/>
<path d="M461.20 377.00 L462.00 374.30 L462.80 375.50 L463.60 395.90 L464.30 415.90 L465.10 427.50 L466.70 429.20 L467.90 429.40 L469.00 428.50 L470.20 424.10 L471.30 417.40 L472.10 412.30 L472.90 414.60 L474.10 420.70 L475.20 426.30 L476.30 426.10 L477.20 420.70 L478.00 420.20 L479.10 421.30 L480.20 424.10 L481.00 427.50 L481.90 424.50 L483.10 422.60 L484.00 422.60 L484.80 426.90 L485.60 428.50 L486.70 427.20 L487.80 426.30 L488.70 422.90 L489.60 417.90 L490.40 415.10 L491.20 416.30" stroke="#000" stroke-width="1.9" fill="none" stroke-linejoin="round" stroke-linecap="round"/>
<path d="M494.10 428.30 L495.20 428.00 L496.30 429.10 L497.60 428.80 L499.30 429.40 L500.80 428.50 L501.50 425.70 L502.10 422.90 L503.00 424.10 L504.10 423.50 L505.40 421.80 L506.60 421.30 L507.40 424.10 L508.20 421.80 L509.00 416.30 L509.50 410.10 L509.90 414.00 L510.50 421.80 L511.20 426.30 L512.10 427.20 L513.30 427.60 L514.40 429.10 L515.50 429.40" stroke="#000" stroke-width="1.9" fill="none" stroke-linejoin="round" stroke-linecap="round"/>
<path d="M518.60 422.40 L519.40 419.60 L520.20 418.30 L521.10 419.00 L522.00 422.90 L523.10 426.10 L524.20 425.70 L525.50 423.50 L526.40 423.20 L527.20 424.10 L528.00 426.30 L529.40 427.20 L530.80 427.20 L532.50 427.50 L534.30 427.20 L536.00 427.50 L537.50 421.90 L538.70 417.00" stroke="#000" stroke-width="1.9" fill="none" stroke-linejoin="round" stroke-linecap="round"/>
<path d="M541.70 425.10 L543.10 426.30 L544.80 427.20 L546.60 427.50 L548.40 427.50 L549.80 426.80 L550.50 421.00 L551.50 419.80 L552.20 422.80 L552.90 427.20 L553.60 425.40 L554.50 416.60 L555.40 402.50 L555.90 386.70 L556.30 372.60 L556.60 363.80 L557.20 365.60 L557.70 381.40 L558.40 395.50 L559.30 407.80 L560.30 414.00 L561.60 419.80 L562.50 421.90 L563.90 421.90 L565.10 416.60 L566.30 414.00" stroke="#000" stroke-width="1.9" fill="none" stroke-linejoin="round" stroke-linecap="round"/>
<path d="M569.50 428.10 L570.90 427.00 L572.00 406.00 L572.70 383.60 L573.30 365.00 L573.70 345.00 L574.00 325.00 L574.40 305.00 L574.70 290.00 L575.00 281.00 L575.70 274.80 L576.40 281.00 L576.80 290.00 L577.20 305.00 L577.70 325.00 L578.10 345.00 L578.60 365.00 L579.30 387.40 L580.20 398.60 L580.80 406.00 L581.30 413.60 L582.30 415.80 L583.60 415.80" stroke="#000" stroke-width="1.9" fill="none" stroke-linejoin="round" stroke-linecap="round"/>
<path d="M586.40 400.50 L587.30 401.40 L588.20 415.40 L589.20 426.60 L590.70 428.10 L592.50 427.60 L593.80 421.00 L594.80 416.90 L595.70 423.80 L597.00 426.60 L598.20 427.20 L599.30 427.40 L600.50 426.30 L601.00 425.40" stroke="#000" stroke-width="1.9" fill="none" stroke-linejoin="round" stroke-linecap="round"/>
<path d="M603.60 416.30 L604.40 407.30 L604.90 396.20 L605.50 388.90 L606.30 390.60 L606.90 397.30 L607.40 405.10 L608.10 401.70 L608.80 402.90 L609.60 407.30 L610.50 414.00 L611.40 420.70 L612.20 427.40 L613.00 429.10 L613.90 428.00 L615.00 426.30 L615.90 424.60 L616.60 426.90" stroke="#000" stroke-width="1.9" fill="none" stroke-linejoin="round" stroke-linecap="round"/>
<path d="M619.40 427.20 L620.30 425.70 L621.10 420.70 L621.90 416.30 L622.60 414.20 L623.30 415.10 L624.50 419.60 L625.60 424.10 L626.70 426.90 L627.80 428.80 L628.90 429.10 L630.00 428.00 L631.20 427.60 L631.90 424.10 L632.80 418.50 L633.60 415.40 L634.30 418.50 L635.10 424.60 L636.20 425.70" stroke="#000" stroke-width="1.9" fill="none" stroke-linejoin="round" stroke-linecap="round"/>
<path d="M639.10 428.00 L640.00 426.50 L641.10 425.70 L642.20 425.20 L642.80 421.30 L643.40 421.80 L644.10 428.00 L644.90 429.10 L645.80 423.00 L646.70 417.40 L647.50 413.80 L648.30 415.10 L648.90 419.60 L649.70 423.50 L650.80 426.10 L652.00 428.00 L653.60 429.10 L655.30 429.40" stroke="#000" stroke-width="1.9" fill="none" stroke-linejoin="round" stroke-linecap="round"/>
<path d="M657.50 428.50 L658.70 428.00 L659.80 428.00 L660.90 428.80 L662.00 429.40 L663.10 429.10 L664.20 427.20 L665.00 425.80 L665.70 428.00 L666.50 426.30 L667.30 421.80 L667.90 423.50 L668.70 426.90 L669.50 425.20 L670.40 421.80 L671.50 418.50 L672.60 416.80 L673.50 416.30 L674.30 417.90 L675.40 422.40 L676.50 424.60 L677.30 420.70 L678.00 418.30 L678.80 423.00 L679.50 426.90 L680.60 427.60 L681.80 428.30 L682.70 429.10" stroke="#000" stroke-width="1.9" fill="none" stroke-linejoin="round" stroke-linecap="round"/>
<text x="536.60" y="465.60" text-anchor="middle" font-size="7.0" fill="#2a2a2a" stroke="#2a2a2a" stroke-width="0.25" textLength="43.6" lengthAdjust="spacingAndGlyphs">Chromosome</text>
<text transform="translate(361.0,351.9) rotate(-90)" text-anchor="middle" font-size="7.2" fill="#2a2a2a" stroke="#2a2a2a" stroke-width="0.25" textLength="7.6" lengthAdjust="spacingAndGlyphs">lod</text>
<text x="1.0" y="14.6" font-size="20.2" textLength="12.6" lengthAdjust="spacingAndGlyphs" fill="#000">A</text>
<text x="0.6" y="269.8" font-size="21.6" textLength="13.4" lengthAdjust="spacingAndGlyphs" fill="#000">B</text>
</g>
</g>
</svg>
</body></html>
